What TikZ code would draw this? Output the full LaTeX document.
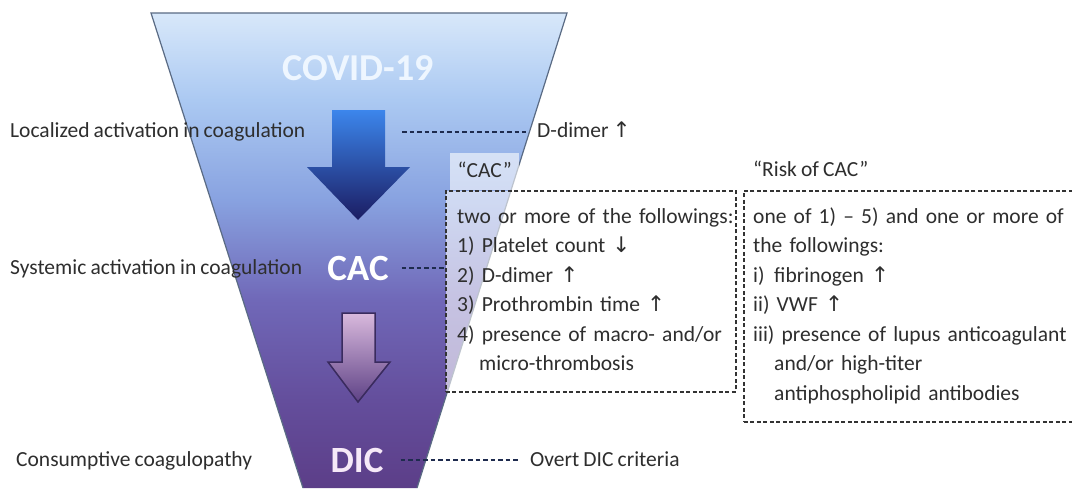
\documentclass[tikz,border=0pt]{standalone}
\usepackage{fontspec}
\setmainfont{Carlito}[WordSpace=0.85]
\newfontfamily\arrowfont{DejaVu Sans}
\definecolor{fA}{HTML}{5C3E88}
\definecolor{fB}{HTML}{644E9C}
\definecolor{fC}{HTML}{7068B8}
\definecolor{fD}{HTML}{88A2E0}
\definecolor{fE}{HTML}{ABC9F2}
\definecolor{fF}{HTML}{D8E8FA}
\definecolor{edgec}{HTML}{5A6B84}
\definecolor{a1t}{HTML}{3C86EC}
\definecolor{a1m}{HTML}{2D5FCF}
\definecolor{a1b}{HTML}{1B1C62}
\definecolor{a2t}{HTML}{D9B9DD}
\definecolor{a2b}{HTML}{5E4286}
\definecolor{a2e}{HTML}{3A2B5E}
\definecolor{covc}{HTML}{EEF6FF}
\definecolor{dicc}{HTML}{F6E9F8}
\definecolor{txt}{HTML}{2E2E2E}
\definecolor{dashc}{HTML}{1E2B4E}
\definecolor{boxc}{HTML}{333333}
\pgfdeclareverticalshading{funnelshade}{100bp}{color(0bp)=(fA); color(25bp)=(fA); color(34.25bp)=(fB); color(44.8bp)=(fC); color(55.3bp)=(fD); color(65.85bp)=(fE); color(75bp)=(fF); color(100bp)=(fF)}
\begin{document}
\begin{tikzpicture}[x=1pt,y=-1pt,
  lbl/.style={inner sep=0pt, text=txt, font=\fontsize{21.5}{29.5}\selectfont, text height=15pt, text depth=4pt},
  big/.style={inner sep=0pt, font=\fontsize{37}{40}\selectfont\bfseries, text height=24pt, text depth=0pt},
  conn/.style={draw=dashc, line width=1.5pt, dash pattern=on 4.5pt off 3pt},
  critbox/.style={draw=boxc, line width=1.7pt, dash pattern=on 4pt off 2.5pt, fill=white, fill opacity=0.6, inner sep=0pt, anchor=north west},
  crittext/.style={inner sep=0pt, anchor=north west, text=txt, text width=340pt, align=left, font=\fontsize{21.5}{29.5}\selectfont}
]
\useasboundingbox (0,0) rectangle (1072,488);
\fill[white] (0,0) rectangle (1072,488);
% funnel
\shade[shading=funnelshade] (151,13) -- (567,13) -- (417,488) -- (303,488) -- cycle;
\draw[edgec, line width=1.2pt, line join=miter] (303,488) -- (151,13) -- (567,13) -- (417,488);
% arrows
\shade[top color=a1t, middle color=a1m, bottom color=a1b] (332,110) -- (385,110) -- (385,167) -- (410,167) -- (358,220) -- (307,167) -- (332,167) -- cycle;
\shadedraw[top color=a2t, bottom color=a2b, draw=a2e, line width=1.5pt] (342,313) -- (375,313) -- (375,362) -- (390,362) -- (358,402) -- (328,362) -- (342,362) -- cycle;
% big labels
\node[big, text=covc, font=\fontsize{38}{40}\selectfont\bfseries] (covid) at (358,68) {COVID-19};
\node[big, text=white] (cac) at (358,268) {CAC};
\node[big, text=dicc] (dic) at (357,460) {DIC};
% left labels
\node[lbl, anchor=west] (loc) at (10,132) {Localized activation in coagulation};
\node[lbl, anchor=west] (sys) at (10,269) {Systemic activation in coagulation};
\node[lbl, anchor=west] (cons) at (16,461) {Consumptive coagulopathy};
% right labels
\node[lbl, anchor=west] (dd) at (537,132) {D-dimer {\arrowfont ↑}};
\node[lbl, anchor=west] (overt) at (530,461) {Overt DIC criteria};
% boxes
\node[critbox, minimum width=290pt, minimum height=201pt] (cacbox) at (445,190) {};
\node[critbox, minimum width=335pt, minimum height=231pt] (riskbox) at (743,190) {};
\node[lbl, fill=white, fill opacity=0.6, text opacity=1, minimum width=69pt, minimum height=37pt, anchor=north west] (caclab) at (450,153) {“CAC”};
\node[lbl, anchor=west] (risklab) at (753,171) {“Risk of CAC”};
\node[crittext] (cactext) at (457,202.35) {\noindent\strut two or more of the followings:\\
1) Platelet count {\arrowfont ↓}\\
2) D-dimer {\arrowfont ↑}\\
3) Prothrombin time {\arrowfont ↑}\\
4) presence of macro- and/or\\
\hspace*{22pt}micro-thrombosis};
\node[crittext] (risktext) at (753,202.35) {\noindent\strut one of 1) – 5) and one or more of\\
the followings:\\
\makebox[21pt][l]{i)}fibrinogen {\arrowfont ↑}\\
ii) VWF {\arrowfont ↑}\\
iii) presence of lupus anticoagulant\\
\hspace*{21pt}and/or high-titer\\
\hspace*{21pt}antiphospholipid antibodies};
% connectors
\coordinate (lstart) at (402,132);
\draw[conn, shorten >=11pt] (lstart) -- (dd.west);
\draw[conn, shorten <=13pt] (cac.east) -- (cac.east -| cacbox.west);
\draw[conn, shorten <=17pt, shorten >=10pt] (dic.east) -- (dic.east -| overt.west);
\end{tikzpicture}
\end{document}
